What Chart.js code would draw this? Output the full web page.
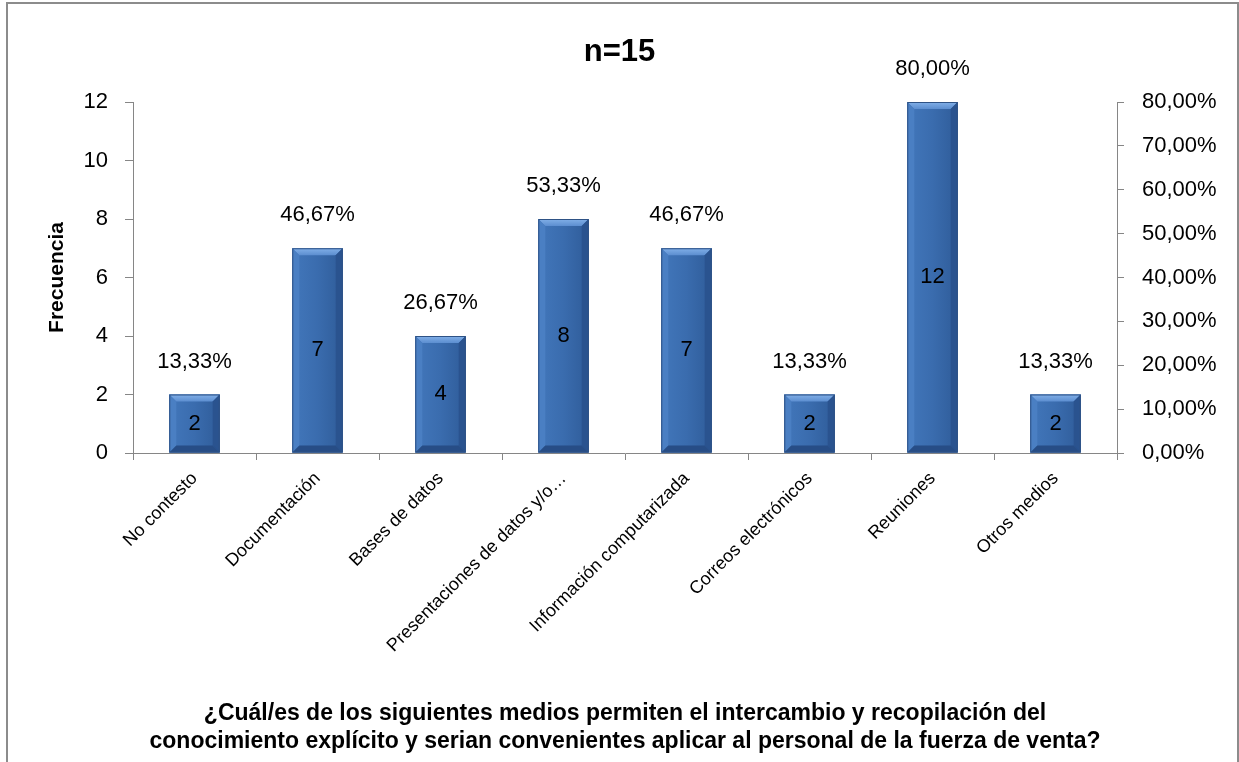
<!DOCTYPE html>
<html><head><meta charset="utf-8">
<script src="https://cdn.jsdelivr.net/npm/chart.js@4"></script>
<style>html,body{margin:0;padding:0;background:#fff}#wrap{width:1239px;height:762px}</style>
</head><body><div id="wrap"><canvas id="c" width="1239" height="762"></canvas></div>
<script>
const categories = ["No contesto","Documentación","Bases de datos","Presentaciones de datos y/o…","Información computarizada","Correos electrónicos","Reuniones","Otros medios"];
const frequencies = [2,7,4,8,7,2,12,2];
const percentages = [13.33,46.67,26.67,53.33,46.67,13.33,80.00,13.33];
const leftTicks = [0,2,4,6,8,10,12];
const rightTicks = [0,10,20,30,40,50,60,70,80];
const titleText = "n=15";
const yTitle = "Frecuencia";
const xTitle = ["¿Cuál/es de los siguientes medios permiten el intercambio y recopilación del","conocimiento explícito y serian convenientes aplicar al personal de la fuerza de venta?"];

const FONT = "'Liberation Sans', Arial, sans-serif";
const AXIS = '#868686';
const fmtPct = v => v.toFixed(2).replace('.', ',') + '%';

const frame = {
  id: 'frame',
  beforeDraw(chart){
    const ctx = chart.ctx;
    ctx.save();
    ctx.fillStyle = '#fff';
    ctx.fillRect(0,0,chart.width,chart.height);
    ctx.strokeStyle = '#8c8c8c';
    ctx.lineWidth = 2;
    ctx.strokeRect(7,3,1231,800);
    ctx.restore();
  }
};

function poly(ctx, pts, fill){
  ctx.beginPath();
  ctx.moveTo(pts[0][0], pts[0][1]);
  for (let k=1;k<pts.length;k++) ctx.lineTo(pts[k][0], pts[k][1]);
  ctx.closePath();
  ctx.fillStyle = fill;
  ctx.fill();
}

const bevel = {
  id: 'bevel',
  afterDatasetsDraw(chart){
    const ctx = chart.ctx;
    chart.getDatasetMeta(0).data.forEach((bar) => {
      const {x, y, base, width} = bar.getProps(['x','y','base','width'], true);
      const l = x - width/2, r = x + width/2, t = y, b = base;
      const bv = Math.min(7, (b - t)/2);
      ctx.save();
      const g = ctx.createLinearGradient(l, 0, r, 0);
      g.addColorStop(0, '#4277BB');
      g.addColorStop(0.5, '#3A6CAE');
      g.addColorStop(1, '#2F5C99');
      ctx.fillStyle = g;
      ctx.fillRect(l, t, width, b - t);
      const gt = ctx.createLinearGradient(0, t, 0, t + bv);
      gt.addColorStop(0, '#82B0E8');
      gt.addColorStop(1, '#5C8ED0');
      poly(ctx, [[l,t],[r,t],[r-bv,t+bv],[l+bv,t+bv]], gt);
      poly(ctx, [[l,t],[l+bv,t+bv],[l+bv,b-bv],[l,b]], '#4A7FC3');
      poly(ctx, [[r,t],[r,b],[r-bv,b-bv],[r-bv,t+bv]], '#2A538F');
      poly(ctx, [[l,b],[l+bv,b-bv],[r-bv,b-bv],[r,b]], '#274D86');
      ctx.strokeStyle = '#2E5285';
      ctx.lineWidth = 1;
      ctx.strokeRect(l+0.5, t+0.5, width-1, b-t-1);
      ctx.restore();
    });
  }
};

const barLabels = {
  id: 'barLabels',
  afterDatasetsDraw(chart){
    const ctx = chart.ctx;
    ctx.save();
    ctx.font = "22px " + FONT;
    ctx.fillStyle = '#000';
    ctx.textAlign = 'center';
    ctx.textBaseline = 'middle';
    chart.getDatasetMeta(0).data.forEach((bar, i) => {
      const {x, y, base} = bar.getProps(['x','y','base'], true);
      ctx.fillText(String(frequencies[i]), x, (y + base)/2);
      ctx.fillText(fmtPct(percentages[i]), x, y - 33);
    });
    ctx.restore();
  }
};

new Chart(document.getElementById('c'), {
  type: 'bar',
  data: {
    labels: categories,
    datasets: [{
      data: frequencies,
      backgroundColor: '#3A6CAE',
      borderWidth: 0,
      barPercentage: 0.41,
      categoryPercentage: 1.0,
      yAxisID: 'y'
    }]
  },
  plugins: [frame, bevel, barLabels],
  options: {
    responsive: false,
    animation: false,
    devicePixelRatio: 1,
    layout: { padding: 0 },
    plugins: {
      legend: { display: false },
      tooltip: { enabled: false },
      title: {
        display: true,
        text: titleText,
        color: '#000',
        font: { family: FONT, size: 31, weight: 'bold', lineHeight: 1.2 },
        padding: { top: 34, bottom: 30.8 }
      }
    },
    scales: {
      x: {
        grid: { display: true, drawOnChartArea: false, drawTicks: true, tickLength: 7, color: AXIS, offset: true },
        border: { display: true, color: AXIS, width: 1 },
        ticks: { color: '#000', font: { family: FONT, size: 18 }, maxRotation: 45, minRotation: 45, autoSkip: false, padding: 8 },
        title: { display: true, text: xTitle, color: '#000', font: { family: FONT, size: 23, weight: 'bold', lineHeight: 1.217 }, padding: { top: 0, bottom: 6 } },
        afterFit(s){ s.height = 309; }
      },
      y: {
        position: 'left',
        min: 0, max: 12,
        afterBuildTicks(s){ s.ticks = leftTicks.map(v => ({value: v})); },
        grid: { display: true, drawOnChartArea: false, drawTicks: true, tickLength: 8, color: AXIS },
        border: { display: true, color: AXIS, width: 1 },
        ticks: { color: '#000', font: { family: FONT, size: 22 }, padding: 17 },
        title: { display: true, text: yTitle, color: '#000', font: { family: FONT, size: 21, weight: 'bold', lineHeight: 1.2 }, padding: { top: 45, bottom: 0 } },
        afterFit(s){ s.width = 133; }
      },
      y2: {
        position: 'right',
        min: 0, max: 80,
        afterBuildTicks(s){ s.ticks = rightTicks.map(v => ({value: v})); },
        grid: { display: true, drawOnChartArea: false, drawTicks: true, tickLength: 7, color: AXIS },
        border: { display: true, color: AXIS, width: 1 },
        ticks: { color: '#000', font: { family: FONT, size: 22 }, padding: 18, callback: v => fmtPct(v) },
        afterFit(s){ s.width = 122; }
      }
    }
  }
});
</script>
</body></html>
